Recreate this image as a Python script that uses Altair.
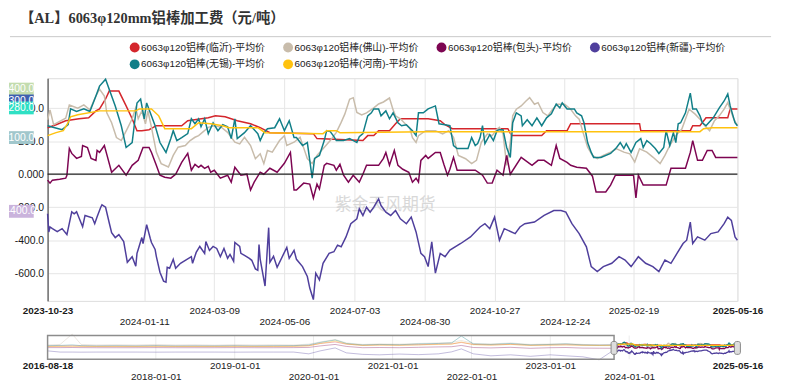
import altair as alt
import pandas as pd

START = "2023-10-23"
END = "2025-05-16"
HIST_START = "2016-08-18"

NAMES = ["6063φ120铝棒(临沂)-平均价", "6063φ120铝棒(佛山)-平均价", "6063φ120铝棒(包头)-平均价",
         "6063φ120铝棒(新疆)-平均价", "6063φ120铝棒(无锡)-平均价", "6063φ120铝棒(河南)-平均价"]
COLORS = ["#d4262c", "#c8bcab", "#7d0552", "#4f3f9c", "#117f88", "#ffc20e"]

# ---- main window data: day offset from START, value (元/吨)
linyi_days = [0, 7, 15, 26, 34, 40, 43, 48, 51, 59, 65, 70, 74, 78, 84, 90, 111, 116, 133, 139, 147, 157, 168, 176, 184,
              220, 223, 261, 265, 270, 274, 283, 288, 292, 315, 325, 329, 335, 381, 384, 409, 413, 430, 433, 490, 491,
              532, 534, 540, 545, 563, 565, 571]
linyi_vals = [282, 300, 324, 336, 342, 384, 396, 456, 504, 504, 414, 336, 264, 264, 270, 294, 294, 324, 342, 354, 348, 324, 306, 282, 252,
              246, 216, 204, 234, 234, 264, 264, 306, 336, 336, 324, 300, 276, 276, 234, 234, 264, 264, 306, 306, 264,
              264, 294, 294, 342, 342, 396, 396]

foshan_days = [0, 2, 5, 10, 15, 18, 25, 30, 35, 40, 43, 47, 49, 53, 57, 61, 66, 70, 73, 75, 78, 81, 83, 86, 90, 94, 100, 104,
               108, 114, 118, 122, 125, 133, 138, 144, 149, 155, 159, 163, 168, 172, 176, 179, 182, 186, 192, 196, 198, 204,
               209, 215, 219, 223, 228, 234, 239, 243, 246, 250, 253, 256, 260, 264, 270, 274, 278, 283, 286, 288, 292, 296,
               300, 302, 305, 307, 313, 321, 327, 332, 336, 340, 346, 351, 355, 359, 364, 368, 372, 374, 377, 380, 383, 385,
               388, 392, 396, 399, 403, 406, 410, 414, 418, 422, 428, 433, 437, 440, 444, 447, 451, 455, 460, 466, 471, 477,
               482, 486, 490, 496, 501, 507, 511, 515, 520, 525, 529, 531, 536, 540, 544, 548, 552, 556, 560, 563, 566, 568, 571]
foshan_vals = [330, 390, 300, 320, 340, 420, 400, 420, 390, 474, 516, 474, 372, 312, 222, 204, 276, 336, 402, 336, 384, 306, 384, 284, 134, 64, 44, 114,
               164, 174, 204, 224, 234, 284, 294, 284, 254, 194, 184, 224, 174, 94, 124, 64, 144, 134, 204, 234, 174, 194,
               224, 94, 64, 114, 154, 204, 254, 314, 364, 454, 464, 374, 360, 372, 402, 426, 438, 462, 390, 354, 336, 306,
               276, 222, 192, 234, 264, 264, 244, 264, 224, 114, 94, 64, 84, 194, 244, 234, 274, 284, 244, 54, 194, 354,
               394, 414, 444, 464, 424, 434, 374, 354, 394, 424, 424, 394, 354, 334, 234, 164, 114, 94, 114, 134, 154, 134,
               124, 74, 154, 134, 104, 64, 114, 174, 234, 274, 354, 394, 364, 334, 294, 264, 324, 354, 394, 434, 374, 334, 294]

baotou_days = [0, 2, 4, 10, 15, 16, 18, 20, 24, 28, 29, 33, 36, 40, 41, 43, 47, 49, 53, 59, 65, 70, 75, 79, 84, 86, 90, 93, 97,
               102, 106, 111, 116, 119, 122, 125, 127, 130, 133, 135, 138, 143, 149, 152, 155, 160, 165, 168, 171, 176, 179,
               184, 190, 196, 201, 204, 206, 212, 217, 220, 223, 225, 229, 231, 237, 239, 242, 245, 249, 253, 258, 261, 264,
               274, 278, 280, 283, 287, 290, 294, 299, 302, 305, 307, 309, 313, 315, 321, 325, 328, 331, 333, 336, 339, 354,
               360, 364, 368, 372, 377, 380, 383, 392, 401, 406, 411, 417, 421, 424, 430, 433, 438, 446, 451, 454, 462, 466,
               470, 485, 487, 489, 493, 512, 516, 528, 532, 534, 538, 542, 546, 550, 553, 571]
baotou_vals = [-36, -54, -36, -30, -24, -6, 156, 126, 96, 108, 174, 162, 96, 84, 144, 132, 174, 120, 12, 54, -6, 54, 84, 162, 162, 132, 54, -6, -18,
               -24, 0, 72, 126, 24, 60, 42, 54, 36, 48, 12, 24, -24, -6, -48, 42, -6, 0, -96, -48, 12, 0,
               36, 12, 66, 132, -96, -96, -54, -60, -144, -60, -90, 54, 66, 54, 24, 60, -6, -48, -6, -48, 0, 54,
               54, 96, 132, 54, 144, 54, 30, 12, -48, -24, -48, 84, 114, 96, 132, 132, 60, -6, 30, 102, 24, 24,
               -6, -54, -54, 24, -6, 114, 0, 102, 54, 84, 84, 54, 174, 96, 72, 54, 42, 36, -12, -108, -108, -66,
               -6, -6, -144, -6, -66, -66, 36, 36, 132, 204, 84, 84, 144, 144, 102, 102]

xinjiang_days = [0, 1, 2, 4, 8, 12, 16, 20, 22, 24, 26, 29, 31, 37, 39, 41, 44, 45, 48, 51, 53, 56, 59, 63, 66, 70, 73, 74, 75,
                 78, 79, 82, 85, 86, 89, 90, 93, 96, 98, 99, 101, 104, 106, 110, 119, 120, 123, 126, 130, 131, 134, 137, 140,
                 143, 146, 149, 151, 154, 155, 159, 160, 163, 167, 169, 172, 174, 175, 176, 180, 182, 183, 184, 187, 190, 196,
                 198, 200, 204, 206, 211, 215, 217, 220, 222, 225, 228, 233, 237, 240, 243, 247, 251, 256, 258, 261, 264, 267,
                 270, 274, 276, 280, 284, 288, 292, 297, 301, 305, 309, 312, 315, 318, 321, 325, 329, 333, 342, 350, 358, 362,
                 366, 370, 374, 378, 387, 391, 395, 403, 411, 419, 425, 429, 434, 440, 446, 450, 455, 460, 467, 473, 478, 483,
                 489, 495, 501, 506, 511, 516, 521, 526, 529, 532, 534, 538, 544, 549, 555, 560, 563, 566, 569, 571]
xinjiang_vals = [-240, -350, -320, -330, -348, -330, -366, -228, -240, -228, -264, -318, -250, -264, -300, -258, -200, -186, -200, -294, -354, -384, -366, -408, -534, -500, -558, -480, -456,
                 -384, -420, -306, -390, -414, -456, -498, -594, -648, -654, -564, -570, -516, -570, -540, -500, -540, -474, -438, -480, -408, -462, -438, -450,
                 -500, -450, -510, -486, -528, -414, -438, -480, -492, -510, -522, -574, -582, -426, -516, -678, -438, -324, -534, -498, -564, -474,
                 -444, -510, -462, -516, -560, -620, -690, -760, -600, -640, -540, -480, -470, -430, -440, -380, -300, -270, -210, -250, -200, -230,
                 -200, -150, -190, -230, -250, -220, -270, -300, -260, -350, -480, -500, -560, -410, -600, -480, -500, -460, -420, -380, -320, -300,
                 -330, -260, -400, -330, -360, -320, -300, -290, -250, -220, -220, -230, -300, -360, -440, -560, -590, -560, -540, -500, -520, -560,
                 -500, -540, -560, -590, -520, -540, -480, -420, -400, -290, -420, -380, -400, -360, -350, -300, -260, -280, -380, -400]

wuxi_days = [0, 6, 12, 17, 19, 24, 30, 35, 40, 43, 48, 56, 61, 65, 70, 74, 77, 80, 82, 85, 89, 93, 98, 102, 104, 107, 111, 116,
             119, 122, 125, 127, 130, 133, 137, 141, 145, 149, 152, 155, 157, 163, 168, 174, 176, 179, 182, 188, 192, 196, 200,
             204, 206, 211, 215, 219, 221, 225, 229, 231, 234, 237, 239, 245, 250, 256, 258, 261, 265, 268, 270, 274, 276, 280,
             283, 286, 290, 293, 297, 302, 305, 307, 311, 315, 321, 324, 329, 333, 336, 339, 348, 351, 354, 356, 358, 360, 362,
             366, 369, 372, 374, 377, 380, 383, 385, 388, 392, 393, 397, 401, 405, 409, 413, 417, 421, 424, 426, 430, 436, 438,
             442, 444, 447, 450, 452, 458, 466, 471, 474, 477, 479, 483, 485, 487, 491, 493, 496, 499, 503, 506, 510, 512, 515,
             518, 520, 522, 524, 528, 532, 534, 537, 540, 542, 545, 548, 551, 556, 560, 563, 565, 569, 571]
wuxi_vals = [294, 282, 270, 300, 396, 380, 396, 380, 474, 534, 576, 414, 294, 162, 192, 432, 456, 336, 432, 372, 294, 192, 132, 216, 264, 204, 222, 246,
             336, 306, 336, 288, 336, 246, 312, 264, 300, 288, 216, 336, 216, 252, 294, 246, 204, 252, 276, 282, 336, 264, 324,
             222, 222, 174, 192, -24, 96, 114, 204, 264, 258, 228, 204, 204, 216, 192, 228, 246, 354, 372, 396, 396, 354, 384,
             336, 372, 312, 294, 300, 264, 234, 372, 372, 396, 414, 306, 300, 294, 174, 156, 156, 222, 174, 186, 222, 294, 186,
             240, 204, 264, 270, 270, 162, 102, 312, 372, 354, 294, 330, 294, 342, 294, 342, 366, 426, 402, 432, 396, 396, 372,
             354, 312, 192, 132, 102, 102, 126, 162, 192, 156, 186, 132, 162, 192, 216, 162, 204, 186, 156, 126, 162, 264, 174,
             252, 192, 306, 312, 372, 492, 396, 396, 354, 312, 294, 318, 342, 402, 444, 486, 414, 312, 294]

henan_days = [0, 7, 13, 17, 19, 25, 43, 73, 76, 86, 92, 97, 119, 125, 135, 145, 150, 174, 180, 228, 231, 239, 242, 313, 540,
              543, 550, 571]
henan_vals = [234, 252, 264, 312, 348, 360, 384, 384, 396, 396, 354, 276, 276, 312, 306, 294, 282, 282, 252, 246, 264, 264, 252, 258, 258,
              276, 282, 282]

# ---- history shown faded in the navigator (before the window)
hist_dates = ["2016-08-18", "2016-10-15", "2016-12-10", "2017-01-20", "2017-04-01", "2017-07-01", "2017-10-01", "2018-01-01",
              "2018-04-01", "2018-07-01", "2018-10-01", "2019-01-01", "2019-04-01", "2019-07-01", "2019-10-01", "2019-12-10",
              "2020-02-01", "2020-04-10", "2020-06-01", "2020-08-15", "2020-11-01", "2021-02-01", "2021-05-01", "2021-08-01",
              "2021-10-01", "2021-11-15", "2022-01-10", "2022-04-01", "2022-07-01", "2022-10-01", "2023-01-01", "2023-03-15",
              "2023-06-01", "2023-08-15", "2023-10-20"]
hist_foshan = [300, 350, 1400, 350, 300, 320, 300, 350, 300, 320, 280, 330, 300, 320, 300, 380, 600, 850, 500, 350, 400, 380,
               450, 500, 550, 750, 450, 400, 500, 350, 400, 450, 350, 300, 330]
hist_wuxi = [220, 250, 300, 230, 200, 220, 200, 230, 200, 210, 200, 220, 200, 220, 230, 300, 550, 800, 450, 300, 350, 320,
             400, 450, 500, 1200, 400, 350, 450, 300, 350, 400, 300, 280, 294]
hist_henan = [140, 150, 160, 150, 140, 140, 140, 150, 140, 140, 140, 150, 140, 140, 150, 200, 450, 700, 400, 250, 280, 260,
              300, 350, 380, 600, 320, 280, 350, 250, 280, 300, 260, 240, 234]
hist_linyi = [170, 180, 200, 180, 170, 170, 170, 180, 170, 170, 170, 180, 170, 170, 180, 230, 450, 600, 380, 260, 300, 280,
              320, 380, 400, 550, 350, 300, 360, 270, 300, 320, 280, 270, 282]
hist_baotou = [30, 30, 40, 30, 20, 20, 20, 30, 20, 20, 20, 30, 20, 20, 30, 50, 200, 350, 150, 20, 40, 20, 60, 100, 120, 250,
               40, 0, 60, -40, 20, 40, -20, -30, -36]
hist_xinjiang = [-300, -420, -420, -430, -420, -420, -420, -430, -420, -420, -420, -430, -420, -420, -420, -600, -300, 0,
                 -500, -650, -700, -620, -680, -600, -400, -100, -600, -800, -700, -850, -700, -800, -900, -1200, -240]

# ---- value badges on the y-axis
badge_labels = ["400.0", "300.0", "280.0", "100.0", "-400.0"]
badge_values = [516, 444, 402, 222, -225]
badge_colors = ["#c3dcae", "#3f5fb0", "#2fe0c4", "#a1c7cc", "#cab3dc"]

main_ticks = ["2023-10-23", "2024-01-11", "2024-03-09", "2024-05-06", "2024-07-03", "2024-08-30", "2024-10-27",
              "2024-12-24", "2025-02-19", "2025-05-16"]
main_row2 = ["2024-01-11", "2024-05-06", "2024-08-30", "2024-12-24"]
nav_ticks = ["2016-08-18", "2018-01-01", "2019-01-01", "2020-01-01", "2021-01-01", "2022-01-01", "2023-01-01",
             "2024-01-01", "2025-05-16"]
nav_row2 = ["2018-01-01", "2020-01-01", "2022-01-01", "2024-01-01"]
y_ticks = [-600, -400, -200, 0, 200, 400]

TITLE = "【AL】6063φ120mm铝棒加工费（元/吨）"
WATERMARK = "紫金天风期货"
FONT = "'Liberation Sans', 'Noto Sans CJK SC', sans-serif"


def dt(s):
    y, m, d = (int(p) for p in s.split("-"))
    return alt.DateTime(year=y, month=m, date=d, utc=True)


def window_frame(days, vals, name):
    base = pd.Timestamp(START)
    return pd.DataFrame({
        "date": [(base + pd.Timedelta(days=int(d))).strftime("%Y-%m-%d") for d in days],
        "value": vals, "series": name})


main_df = pd.concat([
    window_frame(linyi_days, linyi_vals, NAMES[0]),
    window_frame(foshan_days, foshan_vals, NAMES[1]),
    window_frame(baotou_days, baotou_vals, NAMES[2]),
    window_frame(xinjiang_days, xinjiang_vals, NAMES[3]),
    window_frame(wuxi_days, wuxi_vals, NAMES[4]),
    window_frame(henan_days, henan_vals, NAMES[5]),
], ignore_index=True)

hist_df = pd.concat([
    pd.DataFrame({"date": hist_dates, "value": v, "series": n})
    for n, v in zip(NAMES, [hist_linyi, hist_foshan, hist_baotou, hist_xinjiang, hist_wuxi, hist_henan])
], ignore_index=True)

badge_df = pd.DataFrame({"label": badge_labels, "value": badge_values, "bg": badge_colors})


def stagger_expr(row2):
    arr = "[" + ",".join(f"'{s}'" for s in row2) + "]"
    lab = "utcFormat(datum.value, '%Y-%m-%d')"
    return f"indexof({arr}, {lab}) >= 0 ? ['', {lab}] : {lab}"


def bold_cond(first, last):
    fy, fm, fd = (int(p) for p in first.split("-"))
    ly, lm, ld = (int(p) for p in last.split("-"))
    return {"condition": {"test": f"datum.value <= utc({fy},{fm - 1},{fd}) || datum.value >= utc({ly},{lm - 1},{ld})",
                          "value": "bold"}, "value": "normal"}


main_x_axis = alt.Axis(values=[dt(s) for s in main_ticks], orient="bottom",
                       labelExpr=stagger_expr(main_row2), labelFontWeight=bold_cond(START, END),
                       labelOverlap=False, labelFlush=False, labelBound=False, grid=True, gridColor="#e6e6e6",
                       domain=False, ticks=False, tickSize=0, labelPadding=5, labelFontSize=10,
                       labelColor="#1a1a1a", labelLineHeight=11, title=None)
main_x = alt.X("date:T", scale=alt.Scale(type="utc", domain=[dt(START), dt(END)], nice=False), axis=main_x_axis)

main_y = alt.Y("value:Q", scale=alt.Scale(domain=[-768, 582], nice=False, zero=False),
               axis=alt.Axis(values=y_ticks, labelExpr="datum.value == 0 ? '0.000' : replace(format(datum.value, '.1f'), '\u2212', '-')",
                             grid=True, gridColor="#e6e6e6", domainColor="#333333", ticks=False, tickSize=0,
                             labelPadding=4, labelFontSize=10.5, labelColor="#1a1a1a", title=None))

series_scale = alt.Scale(domain=NAMES, range=COLORS)
legend = alt.Legend(orient="none", legendX=83, legendY=-36, columns=4, direction="horizontal",
                    symbolType="circle", symbolSize=100, symbolStrokeWidth=0, symbolOpacity=1, title=None,
                    labelFontSize=10, labelLimit=0, labelColor="#222222", labelOffset=1.5,
                    columnPadding=18, rowPadding=7, gridAlign="all")
color_nolegend = alt.Color("series:N", scale=series_scale, legend=None)

one_row = pd.DataFrame({"t": [WATERMARK]})

separator = alt.Chart(one_row).mark_rule(color="#c8c8c8", strokeWidth=1).encode(
    x=alt.value(-38), x2=alt.value(731), y=alt.value(-42))
watermark = alt.Chart(one_row).mark_text(fontSize=17, color="#cfcfcf", opacity=0.8, font=FONT).encode(
    x=alt.value(341), y=alt.value(128), text="t:N")
# invisible filled circles: only provide the filled-dot legend
legend_layer = alt.Chart(main_df).mark_circle(opacity=0).encode(
    x=main_x, y=main_y, fill=alt.Fill("series:N", scale=series_scale, legend=legend))
lines = alt.Chart(main_df).mark_line(strokeWidth=1.5).encode(x=main_x, y=main_y, color=color_nolegend)
zero = alt.Chart(pd.DataFrame({"value": [0]})).mark_rule(color="#222222", strokeWidth=1.3).encode(y=main_y)
badge_rect = alt.Chart(badge_df).mark_rect(height=13).encode(
    x=alt.value(-39), x2=alt.value(-14), y=main_y, fill=alt.Fill("bg:N", scale=None))
badge_text = alt.Chart(badge_df).mark_text(color="white", fontSize=10.5, font=FONT).encode(
    x=alt.value(-26.5), y=main_y, text="label:N")

main = alt.layer(separator, watermark, legend_layer, lines, zero, badge_rect, badge_text)

# ---- navigator
nav_x_axis = alt.Axis(values=[dt(s) for s in nav_ticks], orient="bottom",
                      labelExpr=stagger_expr(nav_row2), labelFontWeight=bold_cond(HIST_START, END),
                      labelOverlap=False, labelFlush=False, labelBound=False, grid=False, domain=False,
                      ticks=False, tickSize=0, offset=59, labelPadding=1, labelFontSize=10,
                      labelColor="#1a1a1a", labelLineHeight=11, title=None)
nav_x = alt.X("date:T", scale=alt.Scale(type="utc", domain=[dt(HIST_START), dt(END)], nice=False), axis=nav_x_axis)
nav_y = alt.Y("value:Q", scale=alt.Scale(domain=[-1150, 1250], range=[284, 260], nice=False, zero=False), axis=None)

nav_grid_df = pd.DataFrame({"date": nav_ticks[1:-1]})
nav_box_df = pd.DataFrame({"date": [HIST_START], "date2": [START]})
nav_handle_df = pd.DataFrame({"date": [START, END]})

nav_grid = alt.Chart(nav_grid_df).mark_rule(color="#ececec").encode(x=nav_x, y=alt.value(260), y2=alt.value(284))
hist_lines = alt.Chart(hist_df).mark_line(strokeWidth=1, opacity=0.35).encode(x=nav_x, y=nav_y, color=color_nolegend)
win_lines = alt.Chart(main_df).mark_line(strokeWidth=1.3).encode(x=nav_x, y=nav_y, color=color_nolegend)
nav_box = alt.Chart(nav_box_df).mark_rect(fillOpacity=0, stroke="#8c8c8c", strokeWidth=1.5).encode(
    x=nav_x, x2="date2:T", y=alt.value(260), y2=alt.value(284))
nav_handles = alt.Chart(nav_handle_df).mark_rect(width=6, cornerRadius=2, fill="#dddddd", stroke="#888888",
                                                 strokeWidth=1).encode(x=nav_x, y=alt.value(266), y2=alt.value(279))

nav = alt.layer(nav_grid, hist_lines, win_lines, nav_box, nav_handles)

chart = alt.layer(main, nav).resolve_scale(x="independent", y="independent").properties(
    width=697, height=225,
    autosize=alt.AutoSizeParams(type="none"),
    padding={"left": 40, "top": 69, "right": 41, "bottom": 80},
    title=alt.TitleParams(TITLE, anchor="start", frame="group", dx=-28, offset=10, fontSize=14.5, fontWeight="bold",
                          font="'Liberation Serif', 'Noto Sans CJK SC', serif", color="#333333"),
).configure_view(stroke=None).configure(font=FONT)

chart.save("out.html", embed_options={"renderer": "svg", "actions": False})
